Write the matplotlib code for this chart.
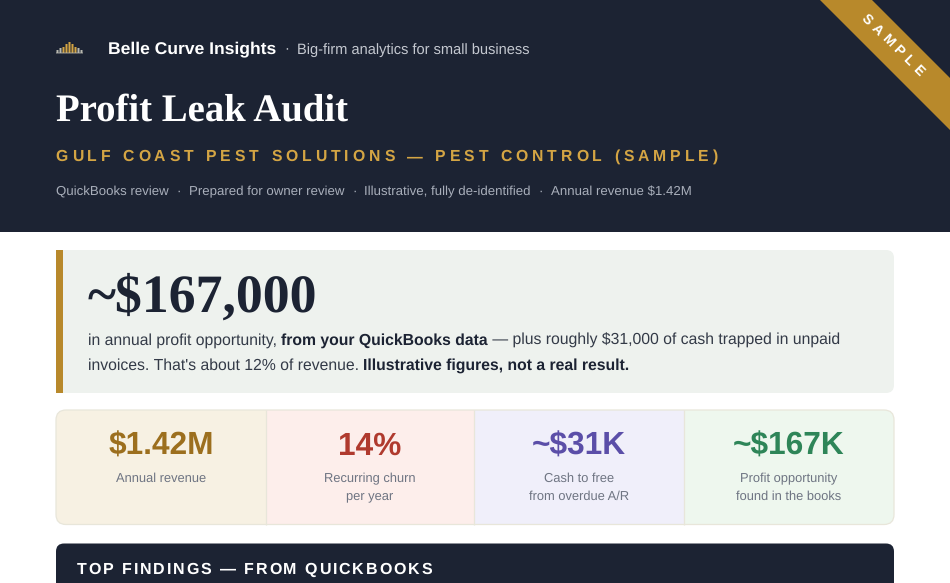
import matplotlib
matplotlib.use("Agg")
import matplotlib.pyplot as plt
from matplotlib.patches import Rectangle, FancyBboxPatch, Polygon

plt.rcParams["text.hinting"] = "none"

SANS = "Liberation Sans"
SERIF = "Liberation Serif"

# Textes
brand = "Belle Curve Insights"
tagline = "Big-firm analytics for small business"
title = "Profit Leak Audit"
subtitle = "GULF COAST PEST SOLUTIONS — PEST CONTROL (SAMPLE)"
meta = ["QuickBooks review", "Prepared for owner review",
        "Illustrative, fully de-identified", "Annual revenue $1.42M"]
big_number = "~$167,000"
line1 = [("in annual profit opportunity, ", False), ("from your QuickBooks data", True),
         (" — plus roughly $31,000 of cash trapped in unpaid", False)]
line2 = [("invoices. That's about 12% of revenue. ", False),
         ("Illustrative figures, not a real result.", True)]

# Cartes KPI
kpi_values = ["$1.42M", "14%", "~$31K", "~$167K"]
kpi_labels = ["Annual revenue", "Recurring churn\nper year",
              "Cash to free\nfrom overdue A/R", "Profit opportunity\nfound in the books"]
kpi_bg = ["#f7f1e3", "#fdeeeb", "#f0effa", "#eef7ee"]
kpi_fg = ["#9c6f1e", "#b03a2e", "#5b4ea8", "#2e8558"]

# Barres du logo (hauteur en pixels)
logo_heights = [3, 5, 6, 9, 11, 9, 6, 5, 3]
logo_colors = ["#b9b9b0", "#b9b9b0", "#d4a544", "#d4a544", "#d4a544", "#d4a544",
               "#d4a544", "#b9b9b0", "#b9b9b0"]

DARK = "#1c2333"
GOLD = "#b8892b"

fig = plt.figure(figsize=(9.5, 5.83), dpi=100)
ax = fig.add_axes([0, 0, 1, 1])
ax.set_xlim(0, 950)
ax.set_ylim(583, 0)
ax.axis("off")
renderer = fig.canvas.get_renderer()


def px(size):
    return size * 0.72


def width(s, size, family=SANS, weight="normal"):
    t = ax.text(0, 0, s.replace(" ", "\u00a0"), fontsize=px(size), family=family, weight=weight)
    w = t.get_window_extent(renderer).width
    t.remove()
    return w


def spaced(x, y, s, size, color, spacing, weight="bold"):
    # Texte avec interlettrage, caractère par caractère
    for ch in s:
        ax.text(x, y, ch, fontsize=px(size), family=SANS, weight=weight, color=color, va="baseline")
        x += width(ch, size, weight=weight) + spacing


def runs(x, y, parts, size, color, bold_color):
    for s, bold in parts:
        w = "bold" if bold else "normal"
        ax.text(x, y, s.replace(" ", "\u00a0"), fontsize=px(size), family=SANS, weight=w,
                color=bold_color if bold else color, va="baseline")
        x += width(s, size, weight=w)


# En-tête sombre
ax.add_patch(Rectangle((0, 0), 950, 232, color=DARK, lw=0))

# Logo
for i, (h, c) in enumerate(zip(logo_heights, logo_colors)):
    ax.add_patch(Rectangle((56.5 + i * 3, 53 - h), 2, h, color=c, lw=0, snap=False))
ax.add_patch(Rectangle((56, 52.6), 27, 0.8, color="#b9b9b0", lw=0, snap=False))

ax.text(108, 53, brand, fontsize=px(17.5), family=SANS, weight="bold", color="white", va="baseline")
ax.text(287, 53.5, "·", fontsize=px(14.6), family=SANS, color="#c4c8d0", va="baseline", ha="center")
ax.text(297, 53.5, tagline, fontsize=px(14.6), family=SANS, color="#c4c8d0", va="baseline")
ax.text(55.5, 120.7, title, fontsize=px(38.7), family=SERIF, weight="bold", color="white", va="baseline")
spaced(55.5, 161, subtitle, 15.75, "#d4a544", 3.96)

x = 56
for i, m in enumerate(meta):
    ax.text(x, 195, m, fontsize=px(13.25), family=SANS, color="#a9afbb", va="baseline")
    x += width(m, 13.25)
    if i < len(meta) - 1:
        ax.text(x + 10, 195, "·", fontsize=px(13.25), family=SANS, color="#a9afbb", va="baseline", ha="center")
        x += 20

# Bandeau SAMPLE
ax.add_patch(Polygon([(820, 0), (872, 0), (950, 78), (950, 130)], color=GOLD, lw=0))
for i, ch in enumerate("SAMPLE"):
    ax.text(867 + i * 10.2, 20 + i * 10.2, ch, fontsize=px(14), family=SANS, weight="bold",
            color="white", rotation=-45, rotation_mode="anchor", ha="center", va="center")

# Encadré principal
ax.add_patch(FancyBboxPatch((56, 250), 838, 143, boxstyle="round,pad=0,rounding_size=8",
                            fc="#eef2ee", ec="none"))
ax.add_patch(Rectangle((56, 250), 7, 143, color=GOLD, lw=0))
ax.text(88, 312, big_number, fontsize=px(53.7), family=SERIF, weight="bold", color=DARK, va="baseline")
runs(88, 345, line1, 15.75, "#333a47", DARK)
runs(88, 370, line2, 15.75, "#333a47", DARK)

# Cartes
edges = [56, 266, 474, 684, 894]
clip = FancyBboxPatch((56, 410), 838, 114.5, boxstyle="round,pad=0,rounding_size=10",
                      fc="none", ec="none")
ax.add_patch(clip)
for i in range(4):
    r = Rectangle((edges[i], 410), edges[i + 1] - edges[i], 114.5, fc=kpi_bg[i], ec="none")
    ax.add_patch(r)
    r.set_clip_path(clip)
    cx = (edges[i] + edges[i + 1]) / 2
    ax.text(cx, 455, kpi_values[i], fontsize=px(31.6), family=SANS, weight="bold", color=kpi_fg[i],
            ha="center", va="baseline")
    for j, lab in enumerate(kpi_labels[i].split("\n")):
        ax.text(cx, 482 + j * 17.7, lab, fontsize=px(12.85), family=SANS, color="#6e7482",
                ha="center", va="baseline")
    if i > 0:
        ax.plot([edges[i], edges[i]], [410, 524.5], color="#e8e6da", lw=0.9, solid_capstyle="butt")
ax.add_patch(FancyBboxPatch((56, 410), 838, 114.5, boxstyle="round,pad=0,rounding_size=10",
                            fc="none", ec="#e8e6da", lw=0.9))

# Bandeau du bas
ax.add_patch(FancyBboxPatch((56, 543.5), 838, 80, boxstyle="round,pad=0,rounding_size=8",
                            fc=DARK, ec="none"))
spaced(77, 574, "TOP FINDINGS — FROM QUICKBOOKS", 16, "white", 1.87)

fig.savefig("out.png", dpi=100)
